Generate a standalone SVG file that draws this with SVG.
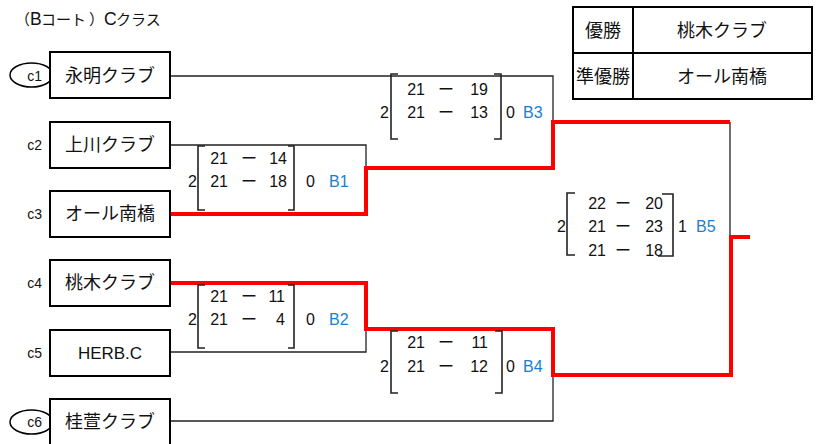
<svg xmlns="http://www.w3.org/2000/svg" width="822" height="444" viewBox="0 0 822 444">
<style>
  text { font-family: "Liberation Sans", "Noto Sans CJK JP", sans-serif; fill: #111; }
  .box { fill: #fff; stroke: #000; stroke-width: 2; }
  .team { font-size: 18px; text-anchor: middle; dominant-baseline: central; }
  .seed { font-size: 14px; text-anchor: end; }
  .sc { font-size: 16px; }
  .end { text-anchor: end; }
  .mid { text-anchor: middle; font-family: "Noto Sans CJK JP", sans-serif; }
  .blue { fill: #1a7fd0; }
  .br { fill: none; stroke: #222; stroke-width: 1.6; }
  .wire { fill: none; stroke: #222; stroke-width: 1.3; }
  .win { fill: none; stroke: #ff0000; stroke-width: 4; }
  .tbl { fill: none; stroke: #000; stroke-width: 2; }
  .cell { font-size: 18px; text-anchor: middle; }
  .lat { font-size: 17.5px; }
</style>

<text y="25" style="font-size:15px"><tspan x="15">（</tspan><tspan x="30" class="lat">B</tspan><tspan x="41">コート</tspan><tspan x="89">）</tspan><tspan x="104" class="lat">C</tspan><tspan x="116">クラス</tspan></text>

<g id="ranking">
  <rect class="tbl" x="573" y="7" width="239" height="92"/>
  <line class="tbl" x1="573" y1="53" x2="812" y2="53"/>
  <line class="tbl" x1="633" y1="7" x2="633" y2="99"/>
  <text class="cell" x="603" y="37">優勝</text>
  <text class="cell" x="722" y="37">桃木クラブ</text>
  <text class="cell" x="603" y="83">準優勝</text>
  <text class="cell" x="722" y="83">オール南橋</text>
</g>

<g id="connectors">
  <path class="wire" d="M170 76 H553 V122"/>
  <path class="wire" d="M170 145 H366 V168"/>
  <path class="wire" d="M170 352 H366 V329"/>
  <path class="wire" d="M170 421 H553 V375"/>
  <path class="wire" d="M730 122 V237"/>
  <path class="win" d="M168 214 H366 V168 H553 V122 H730"/>
  <path class="win" d="M168 283 H366 V329 H553 V375 H731 V237 H750"/>
</g>

<g id="c1">
  <ellipse cx="31.5" cy="75" rx="21.5" ry="12" fill="none" stroke="#000" stroke-width="1.5"/>
  <text class="seed" x="42" y="81">c1</text>
  <rect class="box" x="50" y="52" width="120" height="46"/>
  <text class="team" x="110" y="76">永明クラブ</text>
</g>
<g id="c2">
  <text class="seed" x="42" y="150">c2</text>
  <rect class="box" x="50" y="122" width="120" height="46"/>
  <text class="team" x="110" y="145">上川クラブ</text>
</g>
<g id="c3">
  <text class="seed" x="42" y="219">c3</text>
  <rect class="box" x="50" y="191" width="120" height="46"/>
  <text class="team" x="110" y="214">オール南橋</text>
</g>
<g id="c4">
  <text class="seed" x="42" y="288">c4</text>
  <rect class="box" x="50" y="260" width="120" height="46"/>
  <text class="team" x="110" y="283">桃木クラブ</text>
</g>
<g id="c5">
  <text class="seed" x="42" y="358">c5</text>
  <rect class="box" x="50" y="330" width="120" height="46"/>
  <text class="team" x="110" y="353" style="font-size:17px">HERB.C</text>
</g>
<g id="c6">
  <ellipse cx="31.5" cy="422" rx="21.5" ry="12" fill="none" stroke="#000" stroke-width="1.5"/>
  <text class="seed" x="42" y="427">c6</text>
  <rect class="box" x="50" y="399" width="120" height="48"/>
  <text class="team" x="110" y="422">桂萱クラブ</text>
</g>

<g id="B1">
  <path class="br" d="M205 146 H198 V210 H205"/>
  <path class="br" d="M288 146 H294 V210 H288"/>
  <text class="sc end" x="197" y="187">2</text>
  <text class="sc end" x="228" y="164">21</text>
  <text class="sc mid" x="249" y="164">ー</text>
  <text class="sc end" x="287" y="164">14</text>
  <text class="sc end" x="228" y="187">21</text>
  <text class="sc mid" x="249" y="187">ー</text>
  <text class="sc end" x="287" y="187">18</text>
  <text class="sc" x="306" y="187">0</text>
  <text class="sc blue" x="329" y="187">B1</text>
</g>
<g id="B2">
  <path class="br" d="M205 285 H198 V348 H205"/>
  <path class="br" d="M288 285 H294 V348 H288"/>
  <text class="sc end" x="197" y="325">2</text>
  <text class="sc end" x="228" y="302">21</text>
  <text class="sc mid" x="249" y="302">ー</text>
  <text class="sc end" x="285" y="302">11</text>
  <text class="sc end" x="228" y="325">21</text>
  <text class="sc mid" x="249" y="325">ー</text>
  <text class="sc end" x="285" y="325">4</text>
  <text class="sc" x="306" y="325">0</text>
  <text class="sc blue" x="329" y="325">B2</text>
</g>
<g id="B3">
  <path class="br" d="M398 74 H391 V139 H398"/>
  <path class="br" d="M494 74 H501 V139 H494"/>
  <text class="sc end" x="389" y="118">2</text>
  <text class="sc end" x="425" y="95">21</text>
  <text class="sc mid" x="446" y="95">ー</text>
  <text class="sc end" x="488" y="95">19</text>
  <text class="sc end" x="425" y="118">21</text>
  <text class="sc mid" x="446" y="118">ー</text>
  <text class="sc end" x="488" y="118">13</text>
  <text class="sc" x="506" y="118">0</text>
  <text class="sc blue" x="523" y="118">B3</text>
</g>
<g id="B4">
  <path class="br" d="M398 331 H391 V393 H398"/>
  <path class="br" d="M495 331 H502 V393 H495"/>
  <text class="sc end" x="389" y="372">2</text>
  <text class="sc end" x="425" y="348">21</text>
  <text class="sc mid" x="446" y="348">ー</text>
  <text class="sc end" x="488" y="348">11</text>
  <text class="sc end" x="425" y="372">21</text>
  <text class="sc mid" x="446" y="372">ー</text>
  <text class="sc end" x="488" y="372">12</text>
  <text class="sc" x="506" y="372">0</text>
  <text class="sc blue" x="523" y="372">B4</text>
</g>
<g id="B5">
  <path class="br" d="M575 193 H567 V255 H575"/>
  <path class="br" d="M662 194 H673 V256 H658"/>
  <text class="sc end" x="566" y="232">2</text>
  <text class="sc end" x="606" y="209">22</text>
  <text class="sc mid" x="623" y="209">ー</text>
  <text class="sc end" x="663" y="209">20</text>
  <text class="sc end" x="606" y="232">21</text>
  <text class="sc mid" x="623" y="232">ー</text>
  <text class="sc end" x="663" y="232">23</text>
  <text class="sc end" x="606" y="256">21</text>
  <text class="sc mid" x="623" y="256">ー</text>
  <text class="sc end" x="663" y="256">18</text>
  <text class="sc" x="678" y="232">1</text>
  <text class="sc blue" x="696" y="232">B5</text>
</g>
</svg>
